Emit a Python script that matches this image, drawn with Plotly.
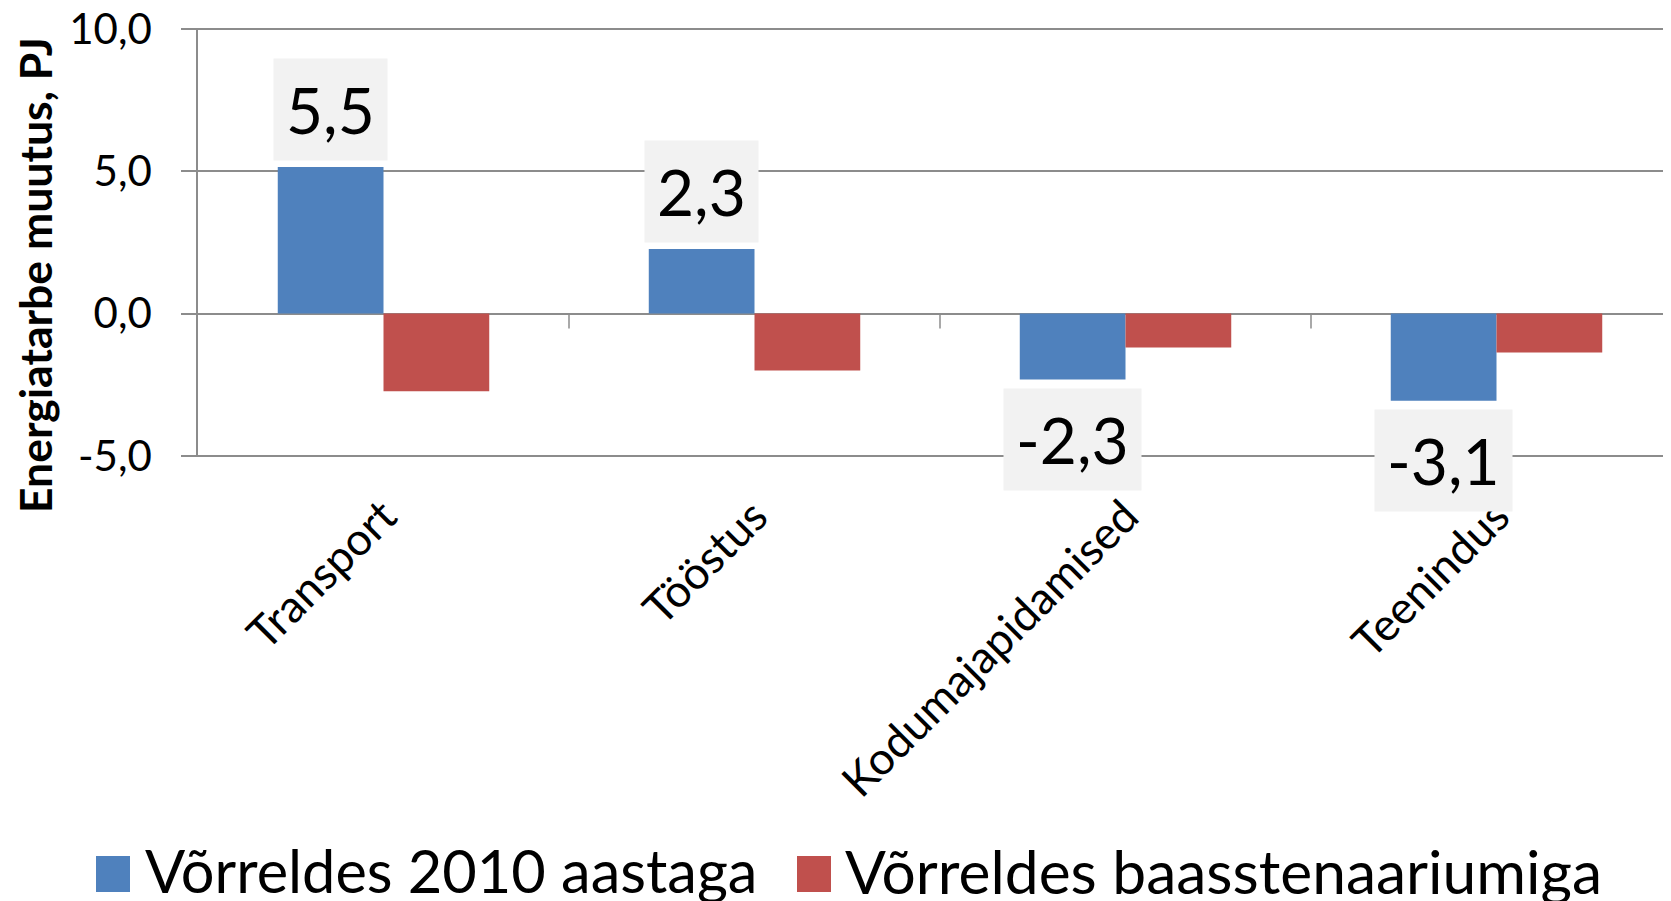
import plotly.graph_objects as go

categories = ["Transport", "Tööstus", "Kodumajapidamised", "Teenindus"]
series_names = ["Võrreldes 2010 aastaga", "Võrreldes baasstenaariumiga"]
vs_2010 = [5.15, 2.27, -2.32, -3.06]
vs_base = [-2.73, -2.0, -1.19, -1.37]
label_texts = ["5,5", "2,3", "-2,3", "-3,1"]
y_ticks = [-5, 0, 5, 10]
y_tick_text = [f"{v:.1f}".replace(".", ",") for v in y_ticks]

BLUE = "#4f81bd"
RED = "#c0504d"
GRID = "#8c8c8c"
FONT = "Lato"

OFF = 8  # page body margin
W, H = 1671, 901
ML, MR, MT, MB = 190, 0, 20, 452
BARGAP = 0.43
PLOT_W = W - ML - MR
PLOT_H = H - MT - MB
CAT_PX = 371.0
x_range = [-0.5, -0.5 + PLOT_W / CAT_PX]
y_range = [-5.04, 10.04]

def px_to_paper_x(px):
    return (px - OFF - ML) / PLOT_W

def px_to_paper_y(py):
    return (H - MB - (py - OFF)) / PLOT_H

fig = go.Figure()
fig.add_trace(go.Bar(x=categories, y=vs_2010, name=series_names[0],
                     marker=dict(color=BLUE, line=dict(width=0)), showlegend=False))
fig.add_trace(go.Bar(x=categories, y=vs_base, name=series_names[1],
                     marker=dict(color=RED, line=dict(width=0)), showlegend=False))

annotations = []
offset = (1 - BARGAP) / 4
for i, (v, t) in enumerate(zip(vs_2010, label_texts)):
    annotations.append(dict(
        x=i - offset, y=v, xref="x", yref="y", text=t, showarrow=False,
        yanchor="bottom" if v >= 0 else "top", yshift=6 if v >= 0 else -8,
        font=dict(family=FONT, size=64, color="black"),
        bgcolor="#f2f2f2", borderpad=12,
    ))

# y-axis title
annotations.append(dict(x=px_to_paper_x(34), y=px_to_paper_y(275), xref="paper", yref="paper",
                        text="<b>Energiatarbe muutus, PJ</b>", textangle=-90, showarrow=False,
                        xanchor="center", yanchor="middle",
                        font=dict(family=FONT, size=44.5, color="black")))

shapes = []
# category divider ticks hanging below the zero line
for i in range(len(categories)):
    shapes.append(dict(type="line", xref="x", yref="y", ysizemode="pixel",
                       x0=i + 0.5, x1=i + 0.5, yanchor=0, y0=0, y1=-15,
                       line=dict(color=GRID, width=1.5)))

# custom legend
legend_items = [(BLUE, series_names[0], 96, 143, 59.5), (RED, series_names[1], 797, 843, 60.5)]
for color, name, sq_x, tx_x, fs in legend_items:
    shapes.append(dict(type="rect", xref="paper", yref="paper",
                       xsizemode="pixel", ysizemode="pixel",
                       xanchor=px_to_paper_x(sq_x), yanchor=px_to_paper_y(892),
                       x0=0, x1=34, y0=0, y1=36,
                       fillcolor=color, line=dict(width=0)))
    annotations.append(dict(x=px_to_paper_x(tx_x), y=px_to_paper_y(870),
                            xref="paper", yref="paper", text=name, showarrow=False,
                            xanchor="left", yanchor="middle",
                            font=dict(family=FONT, size=fs, color="black")))

fig.update_layout(
    width=W, height=H,
    margin=dict(l=ML, r=MR, t=MT, b=MB, pad=0, autoexpand=False),
    paper_bgcolor="white", plot_bgcolor="white",
    barmode="group", bargap=BARGAP, bargroupgap=0,
    font=dict(family=FONT, color="black"),
    annotations=annotations, shapes=shapes,
    showlegend=False,
)
fig.update_xaxes(
    range=x_range, showgrid=False, zeroline=False, showline=False, automargin=False,
    ticks="", tickangle=-45, ticklabelstandoff=23,
    tickfont=dict(family=FONT, size=45, color="black"),
)
fig.update_yaxes(
    range=y_range, tickvals=y_ticks, ticktext=y_tick_text, automargin=False,
    showgrid=True, gridcolor=GRID, gridwidth=1.5,
    zeroline=True, zerolinecolor=GRID, zerolinewidth=1.5,
    showline=True, linecolor=GRID, linewidth=1.5,
    ticks="outside", ticklen=15, tickcolor=GRID, tickwidth=1.5,
    ticklabelstandoff=21, ticklabeloverflow="allow",
    tickfont=dict(family=FONT, size=42, color="black"),
)

fig.write_html("out.html")
